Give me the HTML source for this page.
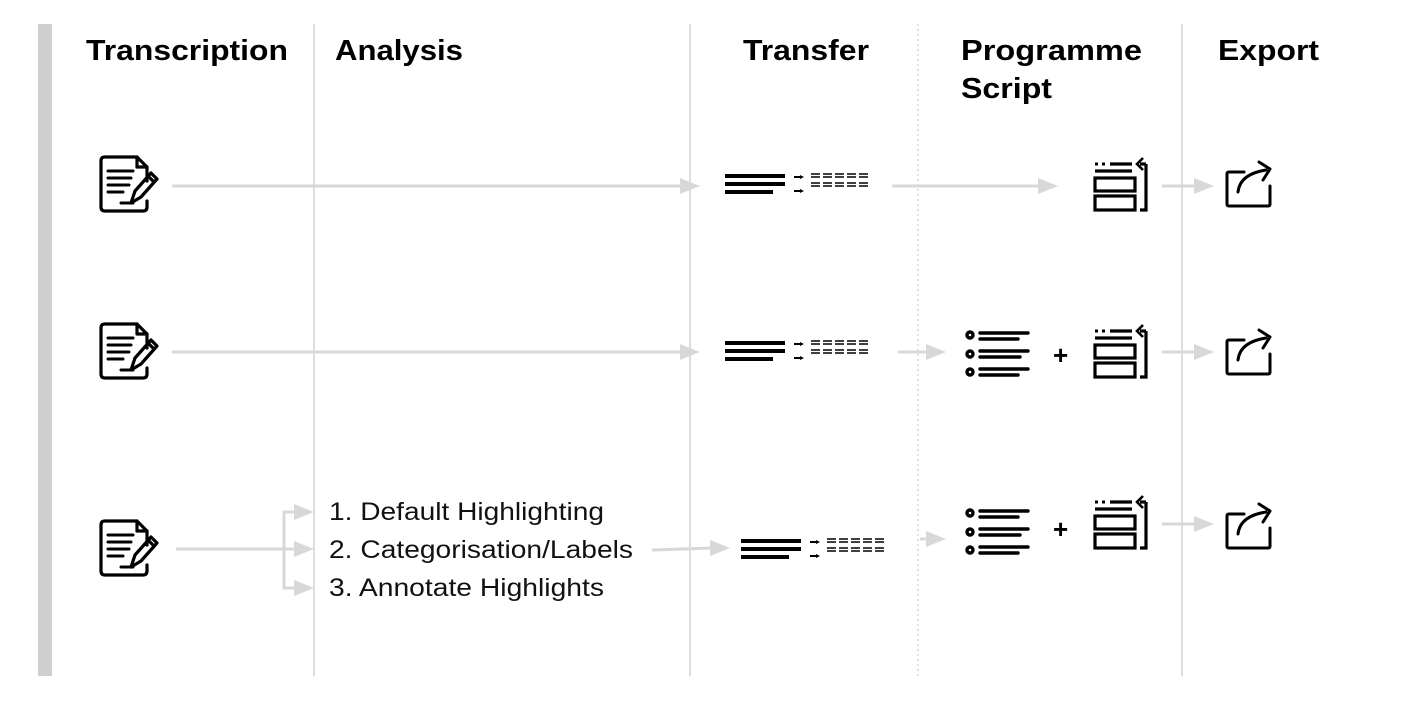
<!DOCTYPE html>
<html><head><meta charset="utf-8"><style>
html,body{margin:0;padding:0;background:#fff;}
svg{display:block}
text{font-family:"Liberation Sans",Helvetica,Arial,sans-serif;}
</style></head><body>
<svg width="1402" height="720" viewBox="0 0 1402 720" xmlns="http://www.w3.org/2000/svg">
<defs>
<g id="doc" fill="none" stroke="#000" stroke-width="3.2" stroke-linejoin="round" stroke-linecap="round">
  <path d="M46 24 V10 L36 0 H4 Q0 0 0 4 V50 Q0 54 4 54 H42 Q46 54 46 50 V44"/>
  <path d="M36 0 V10 H46"/>
  <path d="M7 14 H32 M7 21 H30 M7 28 H28 M7 35 H22 M20 46 H32" stroke-width="3"/>
  <path d="M30 46 L34 34 L50 16 L56 22 L40 40 Z M47 19 L53 25"/>
</g>
<g id="xfer">
  <rect x="0" y="0" width="60" height="4" fill="#000"/>
  <rect x="0" y="8" width="60" height="4" fill="#000"/>
  <rect x="0" y="16" width="48" height="4" fill="#000"/>
  <path d="M69 3 H76 M69 17 H76" stroke="#000" stroke-width="2"/>
  <path d="M75 1 L79 3 L75 5 Z M75 15 L79 17 L75 19 Z" fill="#000"/>
  <g stroke="#000" stroke-width="1.6">
    <path d="M86 0 H146 M86 3 H146 M86 9 H146 M86 12 H146" stroke-dasharray="9 3"/>
  </g>
</g>
<g id="script" fill="none" stroke="#000" stroke-width="3.2">
  <path d="M3 6 H6 M10 6 H13" stroke-width="3"/>
  <path d="M18 6 H40 M3 13 H40"/>
  <rect x="3" y="20" width="40" height="13"/>
  <rect x="3" y="38" width="40" height="14"/>
  <path d="M54 6 V52 H48"/>
  <path d="M54 6 H48"/>
  <path d="M51 0 L45 6 L51 12" stroke-width="2.6"/>
</g>
<g id="list" fill="none" stroke="#000" stroke-width="3.4" stroke-linecap="round">
  <circle cx="4" cy="5" r="3"/><circle cx="4" cy="24" r="3"/><circle cx="4" cy="42" r="3"/>
  <path d="M14 3 H62 M14 9 H52 M14 21 H62 M14 27 H54 M14 39 H62 M14 45 H52"/>
</g>
<g id="exp" fill="none" stroke="#000" stroke-width="3" stroke-linejoin="round" stroke-linecap="round">
  <path d="M18 14 H3 Q1 14 1 16 V46 Q1 48 3 48 H42 Q44 48 44 46 V28"/>
  <path d="M12 34 Q14 16 40 12"/>
  <path d="M33 4 L44 11 L37 22"/>
</g>
<g id="ah"><path d="M0 -8 L20 0 L0 8 Z" fill="#d8d8d8"/></g>
</defs>

<rect x="38" y="24" width="14" height="652" fill="#cfcfcf"/>
<g stroke="#d4d4d4" stroke-width="1.5">
<line x1="314" y1="24" x2="314" y2="676"/>
<line x1="690" y1="24" x2="690" y2="676"/>
<line x1="1182" y1="24" x2="1182" y2="676"/>
</g>
<line x1="918" y1="24" x2="918" y2="676" stroke="#ccc" stroke-width="1.2" stroke-dasharray="2 3"/>

<g font-size="29" font-weight="bold" fill="#000">
<text x="86" y="60" textLength="202" lengthAdjust="spacingAndGlyphs">Transcription</text>
<text x="335" y="60" textLength="128" lengthAdjust="spacingAndGlyphs">Analysis</text>
<text x="743" y="60" textLength="126" lengthAdjust="spacingAndGlyphs">Transfer</text>
<text x="961" y="60" textLength="181" lengthAdjust="spacingAndGlyphs">Programme</text>
<text x="961" y="98" textLength="91" lengthAdjust="spacingAndGlyphs">Script</text>
<text x="1218" y="60" textLength="101" lengthAdjust="spacingAndGlyphs">Export</text>
</g>

<g stroke="#d8d8d8" stroke-width="3" fill="none">
<line x1="172" y1="186" x2="682" y2="186"/>
<line x1="892" y1="186" x2="1040" y2="186"/>
<line x1="1162" y1="186" x2="1196" y2="186"/>
<line x1="172" y1="352" x2="682" y2="352"/>
<line x1="898" y1="352" x2="928" y2="352"/>
<line x1="1162" y1="352" x2="1196" y2="352"/>
<line x1="176" y1="549" x2="296" y2="549"/>
<path d="M296 512 H284 V588 H296"/>
<line x1="652" y1="550" x2="712" y2="548"/>
<line x1="920" y1="539" x2="928" y2="539"/>
<line x1="1162" y1="524" x2="1196" y2="524"/>
</g>
<use href="#ah" transform="translate(680,186)"/>
<use href="#ah" transform="translate(1038,186)"/>
<use href="#ah" transform="translate(1194,186)"/>
<use href="#ah" transform="translate(680,352)"/>
<use href="#ah" transform="translate(926,352)"/>
<use href="#ah" transform="translate(1194,352)"/>
<use href="#ah" transform="translate(294,512)"/>
<use href="#ah" transform="translate(294,549)"/>
<use href="#ah" transform="translate(294,588)"/>
<use href="#ah" transform="translate(710,548)"/>
<use href="#ah" transform="translate(926,539)"/>
<use href="#ah" transform="translate(1194,524)"/>

<use href="#doc" transform="translate(101,157)"/>
<use href="#doc" transform="translate(101,324)"/>
<use href="#doc" transform="translate(101,521)"/>

<use href="#xfer" transform="translate(725,174)"/>
<use href="#xfer" transform="translate(725,341)"/>
<use href="#xfer" transform="translate(741,539)"/>

<use href="#script" transform="translate(1092,158)"/>
<use href="#script" transform="translate(1092,325)"/>
<use href="#script" transform="translate(1092,496)"/>

<use href="#list" transform="translate(966,330)"/>
<use href="#list" transform="translate(966,508)"/>

<g font-size="26" font-weight="bold"><text x="1053" y="364">+</text><text x="1053" y="538">+</text></g>

<use href="#exp" transform="translate(1226,158)"/>
<use href="#exp" transform="translate(1226,326)"/>
<use href="#exp" transform="translate(1226,500)"/>

<g font-size="25" fill="#111">
<text x="329" y="520" textLength="275" lengthAdjust="spacingAndGlyphs">1. Default Highlighting</text>
<text x="329" y="558" textLength="304" lengthAdjust="spacingAndGlyphs">2. Categorisation/Labels</text>
<text x="329" y="596" textLength="275" lengthAdjust="spacingAndGlyphs">3. Annotate Highlights</text>
</g>
</svg>
</body></html>
